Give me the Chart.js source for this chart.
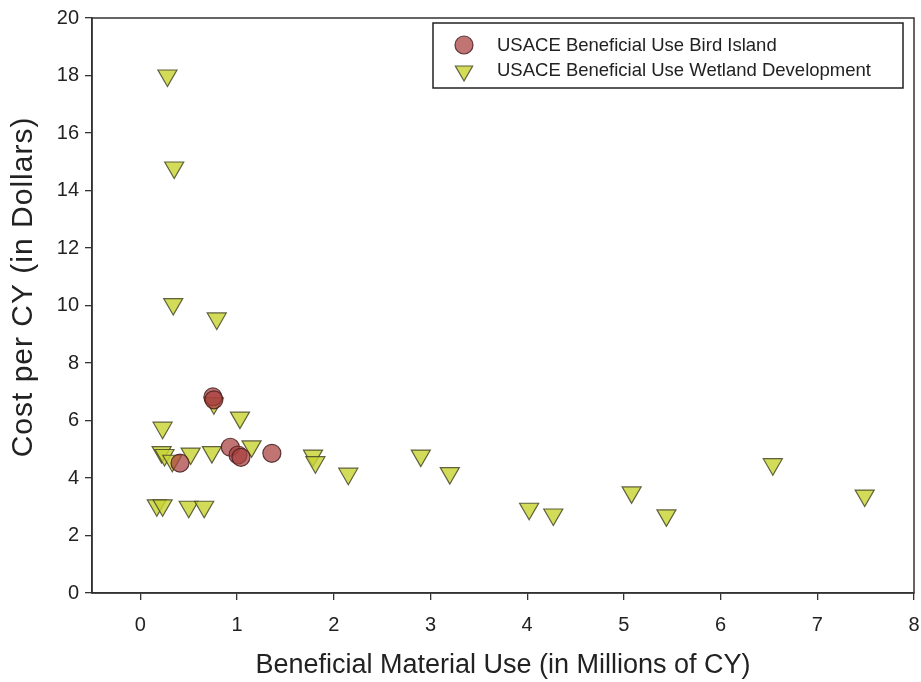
<!DOCTYPE html>
<html>
<head>
<meta charset="utf-8">
<script src="https://cdn.jsdelivr.net/npm/chart.js@4/dist/chart.umd.min.js"></script>
<style>
  html, body { margin: 0; padding: 0; background: #fff; }
  #wrap { width: 921px; height: 682px; position: relative; }
</style>
</head>
<body>
<div id="wrap"><canvas id="c" width="921" height="682"></canvas></div>
<script>
// ---- Data ----
const birdLabel = 'USACE Beneficial Use Bird Island';
const birdX = [0.75, 0.76, 0.93, 1.01, 1.04, 1.36, 0.41];
const birdY = [6.82, 6.72, 5.07, 4.80, 4.72, 4.86, 4.52];

const wetLabel = 'USACE Beneficial Use Wetland Development';
const wetX = [0.28, 0.35, 0.34, 0.79, 0.76, 1.03, 0.23, 1.15, 0.22, 0.25, 0.33, 0.52, 0.74,
              0.17, 0.23, 0.50, 0.66, 1.785, 1.81, 2.15, 2.90, 3.20, 4.02, 4.27, 5.08, 5.44, 6.54, 7.49];
const wetY = [18.0, 14.8, 10.05, 9.55, 6.6, 6.1, 5.75, 5.1, 4.9, 4.8, 4.6, 4.85, 4.9,
              3.05, 3.05, 3.0, 3.0, 4.78, 4.55, 4.15, 4.78, 4.17, 2.93, 2.73, 3.5, 2.7, 4.48, 3.39];

const xTicks = [0, 1, 2, 3, 4, 5, 6, 7, 8];
const yTicks = [0, 2, 4, 6, 8, 10, 12, 14, 16, 18, 20];
const xTitle = 'Beneficial Material Use (in Millions of CY)';
const yTitle = 'Cost per CY (in Dollars)';

const toPts = (xs, ys) => xs.map((x, i) => ({ x: x, y: ys[i] }));

const FONT = "'Liberation Sans', Arial, sans-serif";
const AXIS = '#333333';

const birdStyle = {
  pointStyle: 'circle', pointRadius: 9, pointRotation: 0,
  backgroundColor: 'rgba(168, 62, 62, 0.72)', borderColor: 'rgba(70, 30, 30, 0.85)', borderWidth: 1.2
};
const wetStyle = {
  pointStyle: 'triangle', pointRadius: 11, pointRotation: 180,
  backgroundColor: 'rgba(200, 212, 52, 0.82)', borderColor: 'rgba(70, 72, 40, 0.85)', borderWidth: 1.2
};

const frameAndLegend = {
  id: 'frameAndLegend',
  afterDraw(chart) {
    const ctx = chart.ctx;
    const a = chart.chartArea;
    ctx.save();
    ctx.strokeStyle = AXIS;
    ctx.lineWidth = 1.5;
    ctx.strokeRect(a.left, a.top, a.right - a.left, a.bottom - a.top);

    // y axis title (drawn here so it can sit where the reference has it)
    ctx.save();
    ctx.translate(24, 287);
    ctx.rotate(-Math.PI / 2);
    ctx.fillStyle = '#222';
    ctx.font = '30px ' + FONT;
    try { ctx.letterSpacing = '1px'; } catch (e) {}
    ctx.textAlign = 'center';
    ctx.textBaseline = 'middle';
    ctx.fillText(yTitle, 0, 0);
    ctx.restore();

    // legend box
    const bx = 433, by = 23, bw = 470, bh = 65;
    ctx.fillStyle = '#fff';
    ctx.fillRect(bx, by, bw, bh);
    ctx.strokeStyle = '#222';
    ctx.lineWidth = 1.5;
    ctx.strokeRect(bx, by, bw, bh);

    const items = [
      { ds: chart.data.datasets[0], y: 46, cy: 45 },
      { ds: chart.data.datasets[1], y: 71, cy: 71 }
    ];
    items.forEach(it => {
      const ds = it.ds;
      ctx.fillStyle = ds.backgroundColor;
      ctx.strokeStyle = ds.borderColor;
      ctx.lineWidth = ds.borderWidth;
      Chart.helpers.drawPoint(ctx, {
        pointStyle: ds.pointStyle,
        radius: ds.pointStyle === 'triangle' ? 10 : 9,
        rotation: ds.pointRotation,
        borderWidth: ds.borderWidth
      }, 464, it.cy);
      ctx.fillStyle = '#222';
      ctx.font = '18.5px ' + FONT;
      ctx.textAlign = 'left';
      ctx.textBaseline = 'middle';
      ctx.fillText(ds.label, 497, it.y);
    });
    ctx.restore();
  }
};

new Chart(document.getElementById('c'), {
  type: 'scatter',
  data: {
    datasets: [
      Object.assign({ label: birdLabel, data: toPts(birdX, birdY) }, birdStyle),
      Object.assign({ label: wetLabel, data: toPts(wetX, wetY) }, wetStyle)
    ]
  },
  options: {
    responsive: false,
    animation: false,
    devicePixelRatio: 1,
    layout: { autoPadding: false, padding: { top: 18, right: 7, left: 0, bottom: 0 } },
    plugins: { legend: { display: false }, tooltip: { enabled: false } },
    scales: {
      x: {
        type: 'linear', min: -0.5, max: 8,
        afterBuildTicks: s => { s.ticks = xTicks.map(v => ({ value: v })); },
        afterFit: s => { s.height = 89; s.paddingLeft = 0; s.paddingRight = 0; },
        grid: { drawOnChartArea: false, drawTicks: true, tickLength: 7, color: AXIS, lineWidth: 1.3 },
        border: { display: true, color: AXIS, width: 1.5 },
        ticks: { color: '#222', font: { family: FONT, size: 20 }, padding: 13, maxRotation: 0 },
        title: { display: true, text: xTitle, color: '#222', font: { family: FONT, size: 27 }, padding: { top: 0, bottom: 0 } }
      },
      y: {
        type: 'linear', min: 0, max: 20,
        afterBuildTicks: s => { s.ticks = yTicks.map(v => ({ value: v })); },
        afterFit: s => { s.width = 92; s.paddingTop = 0; s.paddingBottom = 0; },
        grid: { drawOnChartArea: false, drawTicks: true, tickLength: 7, color: AXIS, lineWidth: 1.3 },
        border: { display: true, color: AXIS, width: 1.5 },
        ticks: { color: '#222', font: { family: FONT, size: 20 }, padding: 6 },
        title: { display: false, text: yTitle }
      }
    }
  },
  plugins: [frameAndLegend]
});
</script>
</body>
</html>
